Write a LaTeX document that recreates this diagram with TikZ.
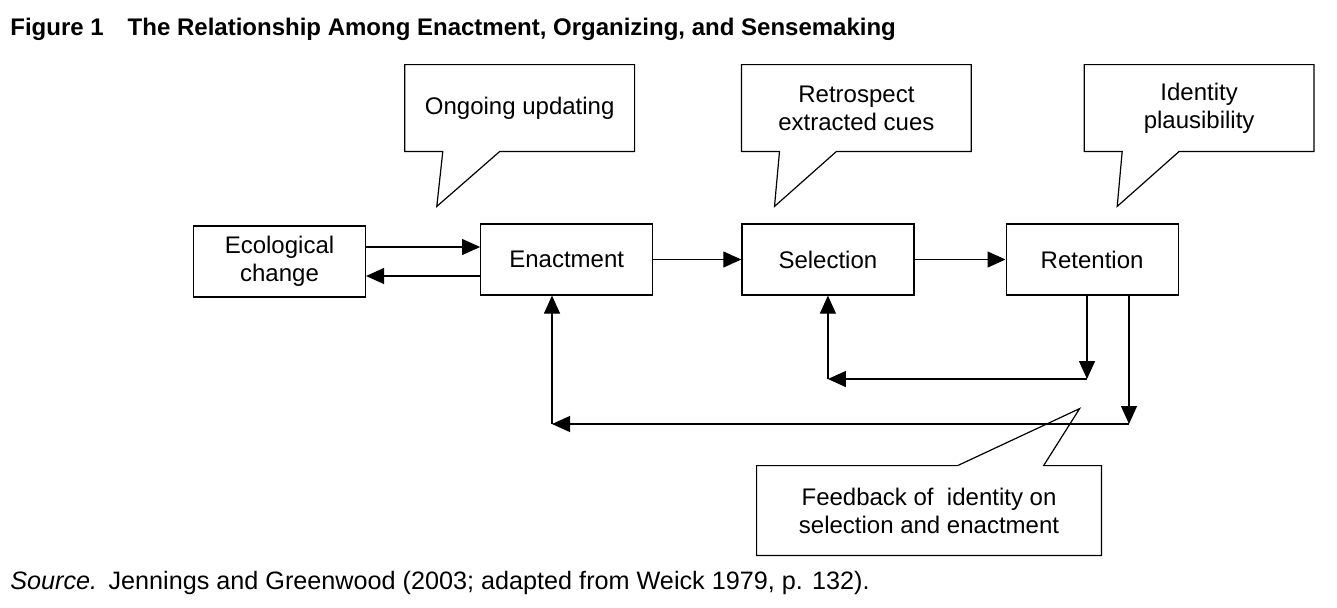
\documentclass[tikz,border=0pt]{standalone}
\usepackage{fontspec}
\setmainfont{Liberation Sans}
\usetikzlibrary{arrows.meta, positioning}
\tikzset{
  procbox/.style={
    rectangle, draw, line width=0.6pt, minimum width=86pt,
    minimum height=35.5pt, align=center, font=\fontsize{12}{14}\selectfont
  },
  notebox/.style={
    rectangle, minimum width=114.5pt, minimum height=43pt,
    align=center, font=\fontsize{12}{14}\selectfont
  },
  noteline/.style={
    line width=0.6pt, line join=miter
  },
  flowarrow/.style={
    line width=0.6pt, -{Triangle[length=9pt,width=8pt]}
  }
}
\begin{document}
\begin{tikzpicture}[x=0.5pt, y=-0.5pt]
  \useasboundingbox (0,0) rectangle (1337,607);
  \node[anchor=west, inner sep=0pt, font=\fontsize{12}{14}\selectfont\bfseries] (title) at (10,29) {Figure 1\quad The Relationship Among Enactment, Organizing, and Sensemaking};

  \node[procbox] (eco) at (279.5,261.5) {Ecological\\change};
  \node[procbox, right=57pt of eco, yshift=1pt] (enact) {Enactment};
  \node[procbox, right=44pt of enact] (sel) {Selection};
  \node[procbox, right=45.5pt of sel] (ret) {Retention};

  \node[notebox, above=36pt of enact, xshift=-23.5pt] (upd) {Ongoing updating};
  \node[notebox, above=36pt of sel, xshift=14.25pt] (retro) {Retrospect\\extracted cues};
  \node[notebox, above=36pt of ret, xshift=53.5pt] (ident) {Identity\\plausibility};
  \node[notebox, minimum width=172pt, minimum height=44.5pt] (fdbk) at (929,510.5) {Feedback of\ \ identity on\\selection and enactment};

  \node[anchor=west, inner sep=0pt, font=\fontsize{12.6}{14}\selectfont] (src) at (10,583) {\textit{Source.}\hspace{0.45em}Jennings and Greenwood (2003; adapted from Weick 1979, p. 132).};

  % callout outlines
  \draw[noteline] (upd.south west) -- (upd.north west) -- (upd.north east) -- (upd.south east) -- ([xshift=47.5pt]upd.south west) -- ([xshift=16pt,yshift=-27.5pt]upd.south west) -- ([xshift=19pt]upd.south west) -- cycle;
  \draw[noteline] (retro.south west) -- (retro.north west) -- (retro.north east) -- (retro.south east) -- ([xshift=47.5pt]retro.south west) -- ([xshift=16.5pt,yshift=-27.5pt]retro.south west) -- ([xshift=19pt]retro.south west) -- cycle;
  \draw[noteline] (ident.south west) -- (ident.north west) -- (ident.north east) -- (ident.south east) -- ([xshift=47.5pt]ident.south west) -- ([xshift=16.5pt,yshift=-27.5pt]ident.south west) -- ([xshift=19pt]ident.south west) -- cycle;
  \draw[noteline] (fdbk.north west) -- ([xshift=100.5pt]fdbk.north west) -- ([xshift=161.5pt,yshift=28.5pt]fdbk.north west) -- ([xshift=143.5pt]fdbk.north west) -- (fdbk.north east) -- (fdbk.south east) -- (fdbk.south west) -- cycle;

  % arrows
  \coordinate (ecoout) at ([yshift=7.25pt]eco.east);
  \coordinate (ecoin) at ([yshift=-7.25pt]eco.east);
  \draw[flowarrow] (ecoout) -- (ecoout -| enact.west);
  \draw[flowarrow] (ecoin -| enact.west) -- (ecoin);
  \draw[flowarrow] (enact) -- (sel);
  \draw[flowarrow] (sel) -- (ret);

  \coordinate (selturn) at (1087,379);
  \coordinate (enturn) at (1129,424);
  \coordinate (enend) at (552,424);
  \draw[flowarrow] (ret.south -| selturn) -- (selturn);
  \draw[flowarrow] (selturn) -- (selturn -| sel);
  \draw[flowarrow] (selturn -| sel) -- (sel.south);
  \draw[flowarrow] (ret.south -| enturn) -- (enturn);
  \draw[flowarrow] (enturn) -- (enend);
  \draw[flowarrow] (enend) -- (enend |- enact.south);
\end{tikzpicture}
\end{document}
